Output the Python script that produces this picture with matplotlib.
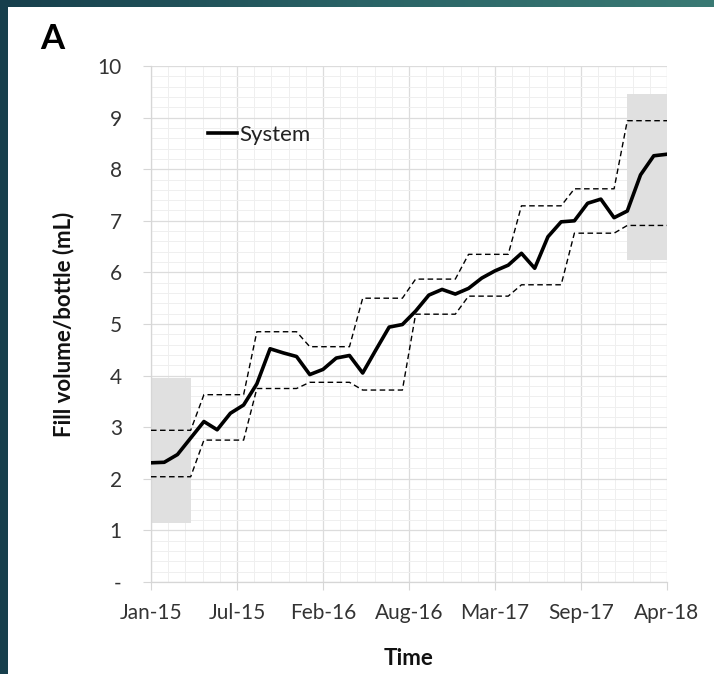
import matplotlib
matplotlib.use("Agg")
import matplotlib.pyplot as plt
import numpy as np
from matplotlib.patches import Rectangle
from matplotlib.colors import LinearSegmentedColormap

plt.rcParams['font.family'] = ['Lato', 'DejaVu Sans']

# Monthly data, Jan-15 (month 0) .. Apr-18 (month 39)
months = list(range(40))
system = [2.31, 2.32, 2.47, 2.79, 3.11, 2.95, 3.27, 3.43, 3.84, 4.52,
          4.44, 4.37, 4.02, 4.12, 4.34, 4.39, 4.05, 4.50, 4.94, 4.99,
          5.25, 5.56, 5.67, 5.58, 5.69, 5.89, 6.03, 6.14, 6.37, 6.08,
          6.69, 6.98, 7.00, 7.34, 7.42, 7.06, 7.19, 7.89, 8.26, 8.29]
upper = [2.94] * 4 + [3.63] * 4 + [4.85] * 4 + [4.56] * 4 + [5.50] * 4 + \
        [5.87] * 4 + [6.35] * 4 + [7.29] * 4 + [7.62] * 4 + [8.94] * 4
lower = [2.04] * 4 + [2.75] * 4 + [3.75] * 4 + [3.87] * 4 + [3.72] * 4 + \
        [5.19] * 4 + [5.54] * 4 + [5.76] * 4 + [6.76] * 4 + [6.91] * 4

# shaded regions: (x start, x end, y low, y high)
shade_left = (0, 3, 1.14, 3.96)
shade_right = (36, 39, 6.25, 9.46)

tick_labels = ["Jan-15", "Jul-15", "Feb-16", "Aug-16", "Mar-17", "Sep-17", "Apr-18"]
ytick_labels = ["-", "1", "2", "3", "4", "5", "6", "7", "8", "9", "10"]

W, H = 714, 674
fig = plt.figure(figsize=(W / 100, H / 100), dpi=100)

# slide background: teal gradient with white content area
bg = fig.add_axes([0, 0, 1, 1], zorder=-10)
cmap = LinearSegmentedColormap.from_list("teal", ["#173f4c", "#2a6366", "#3a7a74"])
bg.imshow(np.linspace(0, 1, 256)[None, :], aspect='auto', cmap=cmap,
          extent=[0, 1, 0, 1])
bg.add_patch(Rectangle((8 / W, 0), 1, 1 - 7 / H, facecolor='white',
                       edgecolor='none', transform=bg.transAxes))
bg.set_xlim(0, 1)
bg.set_ylim(0, 1)
bg.axis('off')

ax = fig.add_axes([151 / W, 1 - 582 / H, (667 - 151) / W, (582 - 66) / H])
ax.set_facecolor('none')

for (x0, x1, y0, y1) in (shade_left, shade_right):
    ax.add_patch(Rectangle((x0, y0), x1 - x0, y1 - y0, facecolor='#e0e0e0',
                           edgecolor='none', zorder=1))

ax.plot(months, upper, color='black', lw=1.0, ls=(0, (4, 2.5)), zorder=3)
ax.plot(months, lower, color='black', lw=1.0, ls=(0, (4, 2.5)), zorder=3)
ax.plot(months, system, color='black', lw=2.6, zorder=4,
        solid_joinstyle='round', label='System')

ax.set_xlim(0, 39)
ax.set_ylim(0, 10)
major_x = np.linspace(0, 39, 7)
ax.set_xticks(major_x)
ax.set_xticklabels(tick_labels)
ax.set_xticks(np.linspace(0, 39, 31), minor=True)
ax.set_yticks(range(11))
ax.set_yticklabels(ytick_labels)
ax.set_yticks(np.arange(0, 10.01, 0.2), minor=True)

ax.grid(which='major', color='#dcdcdc', lw=0.9, zorder=0)
ax.grid(which='minor', color='#efefef', lw=0.7, zorder=0)
ax.set_axisbelow(True)

for s in ['top', 'right']:
    ax.spines[s].set_visible(False)
for s in ['left', 'bottom']:
    ax.spines[s].set_color('#d6d6d6')
    ax.spines[s].set_linewidth(0.9)

ax.tick_params(axis='both', which='major', length=6, color='#d6d6d6',
               labelsize=15, labelcolor='#333333')
ax.tick_params(axis='x', which='major', pad=9)
ax.tick_params(axis='y', which='major', pad=15)
ax.tick_params(which='minor', length=0)

ax.set_ylabel('Fill volume/bottle (mL)', fontsize=16, fontweight='bold',
              color='#111111', labelpad=17)
ax.set_xlabel('Time', fontsize=16, fontweight='bold', color='#111111',
              labelpad=18)

leg = ax.legend(loc='upper left', bbox_to_anchor=(0.093, 0.903), frameon=False,
                fontsize=16, handlelength=1.3, handletextpad=0.1,
                borderaxespad=0)
for t in leg.get_texts():
    t.set_color('#222222')

fig.text(40 / W, 1 - 39 / H, 'A', fontsize=25, fontweight='bold',
         ha='left', va='center', color='black')

fig.savefig('out.png', dpi=100)
